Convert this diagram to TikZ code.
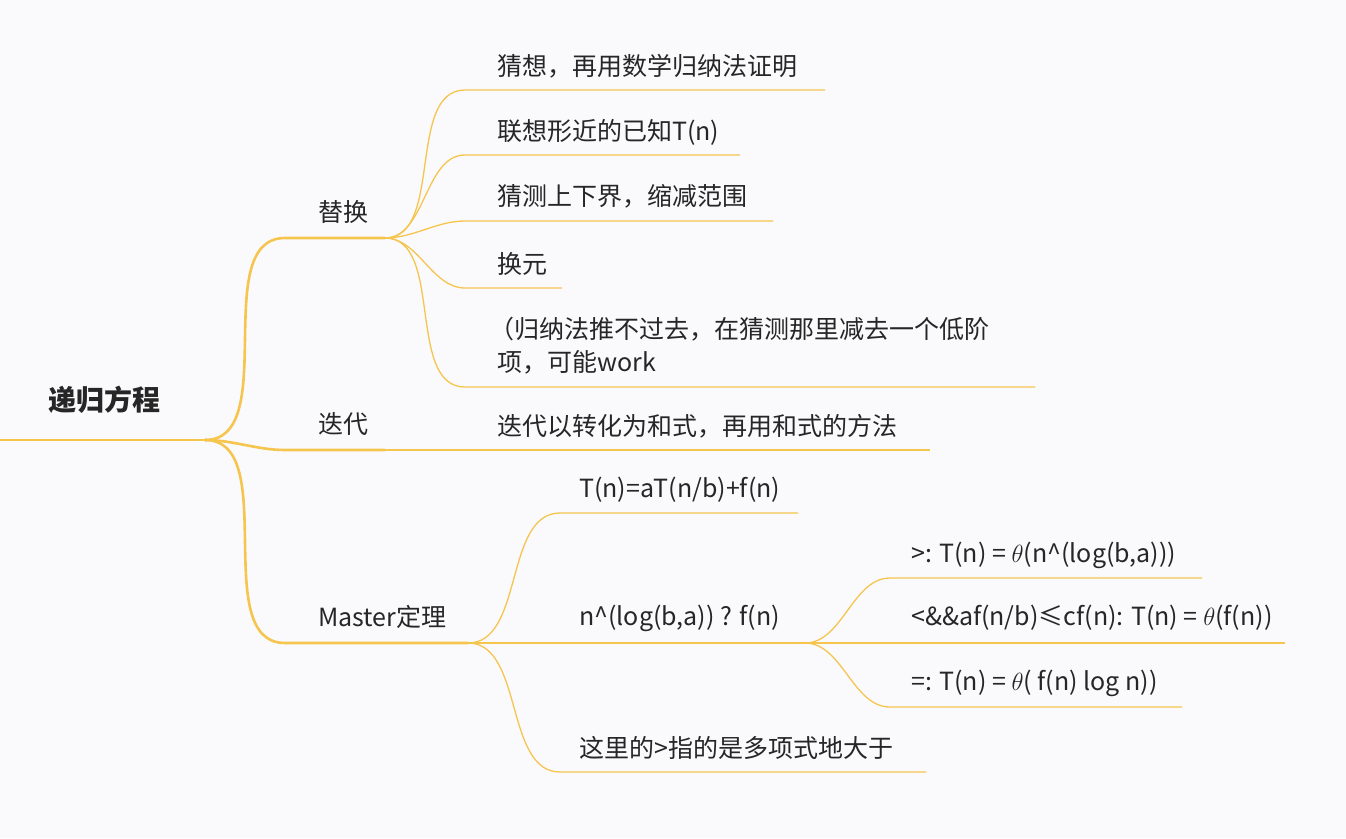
\documentclass[tikz,border=0pt]{standalone}
\usepackage{fontspec}
\setmainfont{Noto Sans CJK SC}
\begin{document}
\begin{tikzpicture}[x=1pt,y=-1pt,
  lbl/.style={anchor=west,inner sep=0pt,font=\fontsize{25}{33}\selectfont,text=black!85},
  br/.style={draw=linecol,line width=1.3pt},
  trunk/.style={draw=linecol,line width=2.6pt}]
\definecolor{linecol}{HTML}{F5C54E}
\definecolor{bgcol}{HTML}{FAFAFD}
\fill[bgcol] (0,0) rectangle (1346,838);
\useasboundingbox (0,0) rectangle (1346,838);
\newcommand{\cur}[4][br]{\draw[#1] (#2) to[out=0,in=180,looseness=0.9] (#3) -- (#4);}
% nodes
\node[lbl,font=\fontsize{28}{30}\selectfont\bfseries] (root) at (48,400) {递归方程};
\node[lbl] (th) at (318,212) {替换};
\node[lbl] (dd) at (318,424) {迭代};
\node[lbl] (ms) at (318,617) {Master定理};
\node[lbl] (a1) at (497,66) {猜想，再用数学归纳法证明};
\node[lbl] (a2) at (497,132) {联想形近的已知T(n)};
\node[lbl] (a3) at (497,196) {猜测上下界，缩减范围};
\node[lbl] (a4) at (497,264) {换元};
\node[lbl,align=left] (a5) at (489,346) {（归纳法推不过去，在猜测那里减去一个低阶\\\hspace*{8pt}项，可能work};
\node[lbl] (b1) at (497,426) {迭代以转化为和式，再用和式的方法};
\node[lbl] (c1) at (579,490) {T(n)=aT(n/b)+f(n)};
\node[lbl] (c2) at (579,618) {n\^{}(log(b,a)) ? f(n)};
\node[lbl] (c3) at (579,748) {这里的>指的是多项式地大于};
\node[lbl] (d1) at (911,555) {>: T(n) = $\theta$(n\^{}(log(b,a)))};
\node[lbl] (d2) at (911,618) {<\&\&af(n/b)≤cf(n): T(n) = $\theta$(f(n))};
\node[lbl] (d3) at (911,683) {=: T(n) = $\theta$( f(n) log n))};
% coordinates
\coordinate (r0) at (0,440); \coordinate (r1) at (205,440);
\coordinate (t0) at (285,238); \coordinate (t1) at (385,238);
\coordinate (i0) at (285,450); \coordinate (i1) at (385,450);
\coordinate (m0) at (285,643); \coordinate (m1) at (468,643);
\draw[trunk] (r0) -- (r1);
\cur[trunk]{r1}{t0}{t1}
\cur[trunk]{r1}{i0}{i1}
\cur[trunk]{r1}{m0}{m1}
\coordinate (a1s) at (465,90); \coordinate (a1e) at (825,90);
\coordinate (a2s) at (465,155); \coordinate (a2e) at (740,155);
\coordinate (a3s) at (465,221); \coordinate (a3e) at (773,221);
\coordinate (a4s) at (465,288); \coordinate (a4e) at (562,288);
\coordinate (a5s) at (465,387); \coordinate (a5e) at (1035,387);
\cur{t1}{a1s}{a1e}\cur{t1}{a2s}{a2e}\cur{t1}{a3s}{a3e}\cur{t1}{a4s}{a4e}\cur{t1}{a5s}{a5e}
\coordinate (b1e) at (930,450);
\draw[br] (i1) -- (b1e);
\coordinate (c1s) at (560,513); \coordinate (c1e) at (798,513);
\coordinate (c2s) at (560,643); \coordinate (c2e) at (805,643);
\coordinate (c3s) at (560,772); \coordinate (c3e) at (926,772);
\cur{m1}{c1s}{c1e}\cur{m1}{c2s}{c2e}\cur{m1}{c3s}{c3e}
\coordinate (d1s) at (890,578); \coordinate (d1e) at (1202,578);
\coordinate (d2s) at (890,643); \coordinate (d2e) at (1285,643);
\coordinate (d3s) at (890,707); \coordinate (d3e) at (1182,707);
\cur{c2e}{d1s}{d1e}\cur{c2e}{d2s}{d2e}\cur{c2e}{d3s}{d3e}
\end{tikzpicture}
\end{document}
